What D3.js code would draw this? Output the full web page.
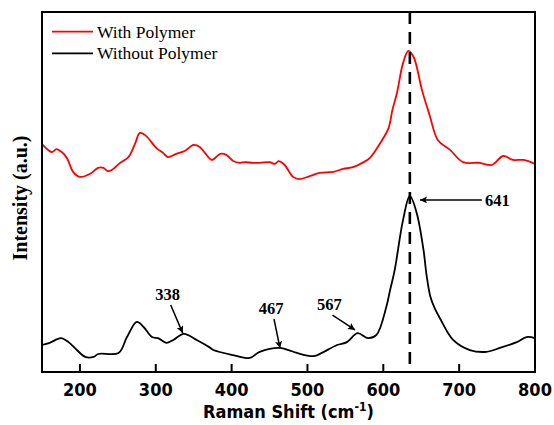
<!DOCTYPE html>
<html>
<head>
<meta charset="utf-8">
<script src="https://cdn.jsdelivr.net/npm/d3@7"></script>
<style>
  body { margin: 0; background: #fff; }
  svg { display: block; }
</style>
</head>
<body>
<svg id="chart" width="554" height="425"></svg>
<script>
const width = 554;
const height = 425;
const margin = { top: 12, right: 19, bottom: 53, left: 42 };

// Raman shift (cm-1) and intensity (a.u.)
const withShift = [150, 163, 169, 176, 183, 191, 200, 213, 224, 231, 237, 242, 253, 264, 273, 279, 286,
  301, 310, 316, 327, 338, 350, 358, 365, 374, 385, 393, 402, 411, 418, 428, 437, 450, 457, 462, 470,
  481, 490, 503, 516, 534, 547, 560, 574, 582, 596, 607, 612, 618, 626, 633, 640, 651, 661, 672, 688,
  705, 727, 743, 758, 771, 785, 800];
const withInt = [63.3, 61.1, 61.9, 61.1, 59.4, 55.6, 54.2, 55.0, 56.7, 56.7, 55.8, 56.1, 58.1, 59.7, 63.6, 66.4, 65.8,
  62.2, 60.8, 59.7, 60.6, 61.4, 63.1, 62.5, 60.8, 58.9, 60.6, 60.3, 58.6, 58.1, 58.3, 58.1, 58.1, 58.3, 57.8, 58.6, 57.5,
  54.2, 53.6, 54.4, 55.3, 55.6, 56.4, 56.9, 58.3, 59.4, 63.6, 67.8, 72.8, 77.5, 85.8, 89.2, 87.5, 78.3, 71.4, 64.4, 61.7,
  58.3, 58.1, 57.5, 60.0, 58.9, 58.9, 57.8];

const withoutShift = [150, 160, 175, 185, 196, 207, 218, 224, 251, 262, 275, 284, 295, 303, 314, 323, 337,
  354, 372, 376, 402, 424, 437, 464, 475, 486, 508, 519, 539, 552, 566, 580, 591, 604, 609, 615, 626, 635,
  644, 653, 657, 662, 668, 675, 692, 714, 736, 754, 776, 789, 800];
const withoutInt = [7.5, 8.1, 9.4, 8.3, 6.1, 4.2, 4.2, 5.0, 5.3, 9.7, 13.9, 12.5, 9.7, 9.4, 8.1, 8.9, 10.6,
  8.9, 6.7, 6.1, 4.7, 3.9, 5.6, 6.7, 6.1, 5.3, 4.4, 5.3, 7.5, 8.3, 10.8, 9.4, 10.3, 18.1, 22.8, 28.3, 42.2, 48.9,
  44.2, 33.9, 27.0, 21.0, 17.6, 14.8, 8.9, 6.1, 5.6, 6.7, 8.3, 9.7, 9.4];

const xTicks = [200, 300, 400, 500, 600, 700, 800];
const markerShift = 635;

// peak labels: arrow tip and arrow tail in data units
const peakLabels = ["338", "467", "567", "641"];
const tipShift = [335.5, 463.8, 562.7, 648.4];
const tipInt = [10.8, 6.6, 11.7, 47.8];
const tailShift = [319.7, 455.9, 533.0, 730.0];
const tailInt = [18.6, 14.7, 15.8, 47.8];

const seriesNames = ["With Polymer", "Without Polymer"];
const seriesColors = ["#ff0000", "#000000"];

const svg = d3.select("#chart");
const iw = width - margin.left - margin.right;
const ih = height - margin.top - margin.bottom;

const x = d3.scaleLinear().domain([150, 800]).range([margin.left, margin.left + iw]);
const y = d3.scaleLinear().domain([0, 100]).range([margin.top + ih, margin.top]);

svg.append("defs").append("marker")
  .attr("id", "arrow")
  .attr("viewBox", "0 0 10 10")
  .attr("refX", 10).attr("refY", 5)
  .attr("markerWidth", 10).attr("markerHeight", 7)
  .attr("markerUnits", "userSpaceOnUse")
  .attr("orient", "auto")
  .append("path")
  .attr("d", "M0,0L10,5L0,10L2,5Z")
  .attr("fill", "#000");

const line = d3.line()
  .x(d => x(d[0]))
  .y(d => y(d[1]))
  .curve(d3.curveCatmullRom.alpha(0.5));

const series = [
  d3.zip(withShift, withInt),
  d3.zip(withoutShift, withoutInt)
];

svg.append("g")
  .selectAll("path")
  .data(series)
  .join("path")
  .attr("d", line)
  .attr("fill", "none")
  .attr("stroke", (d, i) => seriesColors[i])
  .attr("stroke-width", 1.8)
  .attr("stroke-linejoin", "round");

// dashed reference line
svg.append("line")
  .attr("x1", x(markerShift)).attr("x2", x(markerShift))
  .attr("y1", margin.top).attr("y2", margin.top + ih)
  .attr("stroke", "#000")
  .attr("stroke-width", 2.6)
  .attr("stroke-dasharray", "12,8");

// annotations
const ann = svg.append("g");
peakLabels.forEach((lab, i) => {
  const x1 = x(tailShift[i]), y1 = y(tailInt[i]);
  ann.append("line")
    .attr("x1", x1).attr("y1", y1)
    .attr("x2", x(tipShift[i])).attr("y2", y(tipInt[i]))
    .attr("stroke", "#000")
    .attr("stroke-width", 1.5)
    .attr("marker-end", "url(#arrow)");
  const horiz = tailInt[i] === tipInt[i];
  ann.append("text")
    .attr("x", horiz ? x1 + 3 : x1 - 3)
    .attr("y", horiz ? y1 + 6 : y1 - 5)
    .attr("text-anchor", horiz ? "start" : "middle")
    .attr("font-family", "Liberation Serif, serif")
    .attr("font-weight", "bold")
    .attr("font-size", 16.5)
    .text(lab);
});

// x axis ticks (inside) and labels
const xAxis = svg.append("g");
xAxis.selectAll("line")
  .data(xTicks.slice(0, -1))
  .join("line")
  .attr("x1", d => x(d)).attr("x2", d => x(d))
  .attr("y1", margin.top + ih).attr("y2", margin.top + ih - 8)
  .attr("stroke", "#000")
  .attr("stroke-width", 2);
xAxis.selectAll("text")
  .data(xTicks)
  .join("text")
  .attr("x", d => x(d))
  .attr("y", 396)
  .attr("text-anchor", "middle")
  .attr("font-family", "DejaVu Sans Condensed, DejaVu Sans, sans-serif")
  .attr("font-stretch", "condensed")
  .attr("font-weight", "bold")
  .attr("font-size", 18)
  .text(d => d);

// frame
svg.append("rect")
  .attr("x", margin.left).attr("y", margin.top)
  .attr("width", iw).attr("height", ih)
  .attr("fill", "none")
  .attr("stroke", "#000")
  .attr("stroke-width", 2);

// axis titles
const xt = svg.append("text")
  .attr("x", margin.left + iw / 2)
  .attr("y", 418)
  .attr("text-anchor", "middle")
  .attr("font-family", "DejaVu Sans Condensed, DejaVu Sans, sans-serif")
  .attr("font-stretch", "condensed")
  .attr("font-weight", "bold")
  .attr("font-size", 18);
xt.append("tspan").text("Raman Shift (cm");
xt.append("tspan").attr("font-size", 12).attr("dy", -7).text("-1");
xt.append("tspan").attr("dy", 7).text(")");

svg.append("text")
  .attr("transform", "translate(27,198) rotate(-90)")
  .attr("text-anchor", "middle")
  .attr("font-family", "Liberation Serif, serif")
  .attr("font-weight", "bold")
  .attr("font-size", 20)
  .text("Intensity (a.u.)");

// legend
const legend = svg.append("g");
seriesNames.forEach((name, i) => {
  const ly = 31.7 + i * 21.6;
  legend.append("line")
    .attr("x1", 52).attr("x2", 93)
    .attr("y1", ly).attr("y2", ly)
    .attr("stroke", seriesColors[i])
    .attr("stroke-width", 1.8);
  legend.append("text")
    .attr("x", 97).attr("y", ly + 6)
    .attr("font-family", "Liberation Serif, serif")
    .attr("font-size", 17.5)
    .text(name);
});
</script>
</body>
</html>
